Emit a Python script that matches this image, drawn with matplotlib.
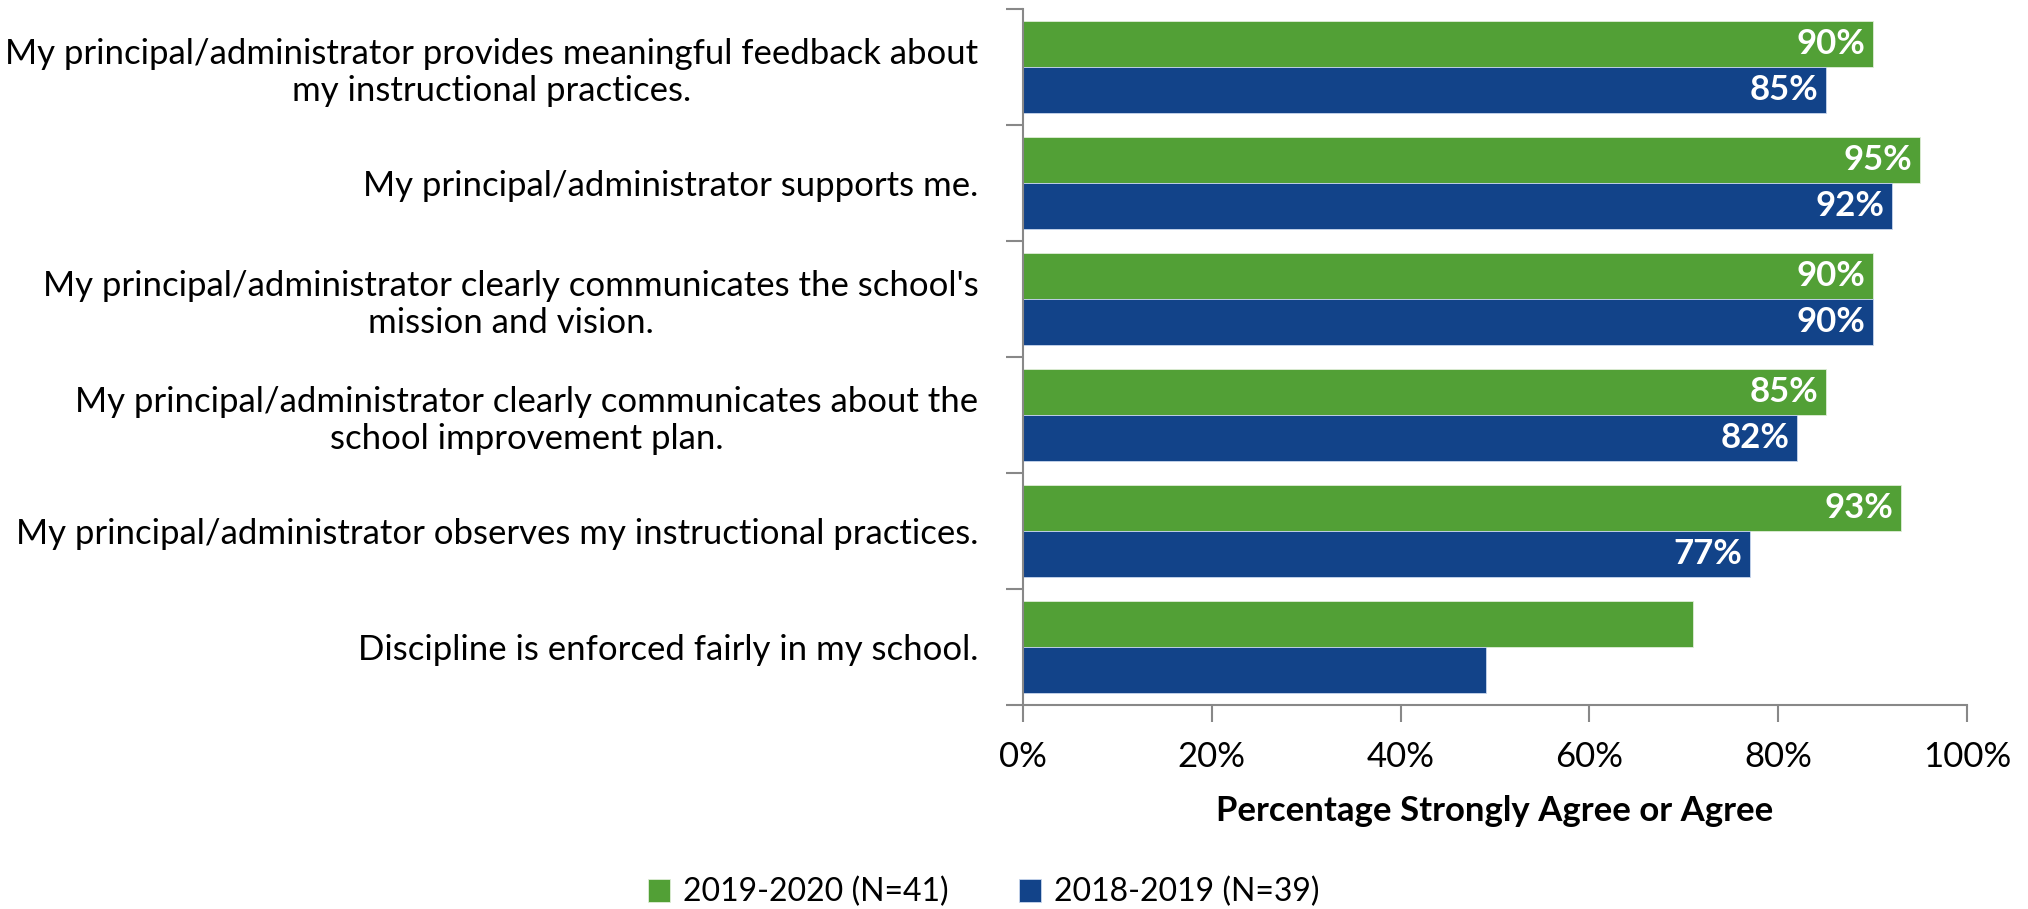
import numpy as np
import matplotlib.pyplot as plt

categories = [
    "My principal/administrator provides meaningful feedback about\nmy instructional practices.",
    "My principal/administrator supports me.",
    "My principal/administrator clearly communicates the school's\nmission and vision.",
    "My principal/administrator clearly communicates about the\nschool improvement plan.",
    "My principal/administrator observes my instructional practices.",
    "Discipline is enforced fairly in my school.",
]
vals_2020 = [90, 95, 90, 85, 93, 71]
vals_2019 = [85, 92, 90, 82, 77, 49]
show_labels = [True, True, True, True, True, False]
series_names = ["2019-2020 (N=41)", "2018-2019 (N=39)"]

green = "#52A036"
blue = "#124389"
font = "Lato"

fig = plt.figure(figsize=(20.28, 9.09), dpi=100)
ax = fig.add_axes([0.5044, 0.2244, 0.4656, 0.7656])

y = np.arange(len(categories))
h = 0.4
b1 = ax.barh(y - h / 2, vals_2020, height=h, color=green, edgecolor="#dfeed8", linewidth=0.6, label=series_names[0])
b2 = ax.barh(y + h / 2, vals_2019, height=h, color=blue, edgecolor="#c8d6ee", linewidth=0.6, label=series_names[1])

for bars, vals in [(b1, vals_2020), (b2, vals_2019)]:
    for bar, v, show in zip(bars, vals, show_labels):
        if show:
            ax.text(v - 0.8, bar.get_y() + bar.get_height() / 2, f"{v}%", ha="right", va="center",
                    color="white", fontsize=25, fontweight="bold", family=font)

ax.set_xlim(0, 100)
ax.set_ylim(len(categories) - 0.5, -0.5)
ax.set_xticks(np.arange(0, 101, 20))
ax.set_xticklabels([f"{t}%" for t in range(0, 101, 20)], fontsize=25, family=font)
ax.set_yticks(y)
ax.set_yticklabels(categories, fontsize=25, family=font, ha="right", multialignment="center")
ax.tick_params(axis="y", length=0, pad=32)
ax.set_yticks(np.arange(-0.5, len(categories), 1), minor=True)
ax.tick_params(axis="y", which="minor", length=12, color="#888888", width=1.5)
ax.tick_params(axis="x", length=12, color="#888888", width=1.5, pad=14)

for s in ["top", "right"]:
    ax.spines[s].set_visible(False)
for s in ["left", "bottom"]:
    ax.spines[s].set_color("#888888")
    ax.spines[s].set_linewidth(1.5)

ax.set_xlabel("Percentage Strongly Agree or Agree", fontsize=25, fontweight="bold", family=font, labelpad=16)

fig.legend(handles=[b1, b2], labels=series_names, loc="lower center", bbox_to_anchor=(0.485, -0.03),
           ncol=2, frameon=False, prop={"family": font, "size": 23}, handlelength=0.7, handleheight=0.7,
           columnspacing=2.2, handletextpad=0.4)

fig.savefig("out.png", dpi=100)
